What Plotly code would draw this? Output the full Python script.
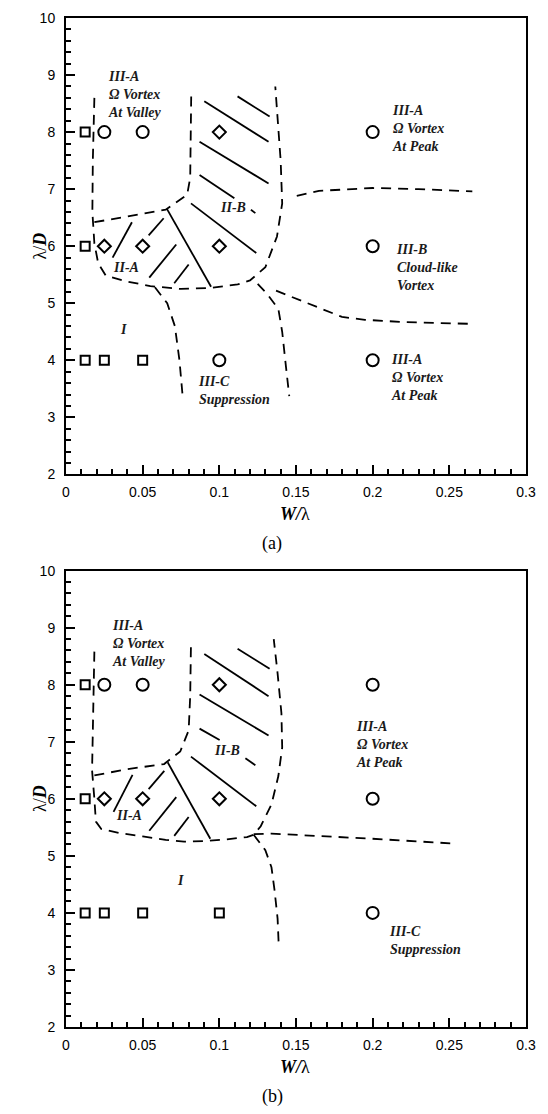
import plotly.graph_objects as go

# ---------------- data ----------------
# panel (a) markers
a_sq_x = [0.0125, 0.0125, 0.0125, 0.025, 0.05]
a_sq_y = [8, 6, 4, 4, 4]
a_ci_x = [0.025, 0.05, 0.1, 0.2, 0.2, 0.2]
a_ci_y = [8, 8, 4, 8, 6, 4]
a_di_x = [0.025, 0.05, 0.1, 0.1]
a_di_y = [6, 6, 8, 6]

# panel (b) markers
b_sq_x = [0.0125, 0.0125, 0.0125, 0.025, 0.05, 0.1]
b_sq_y = [8, 6, 4, 4, 4, 4]
b_ci_x = [0.025, 0.05, 0.2, 0.2, 0.2]
b_ci_y = [8, 8, 8, 6, 4]
b_di_x = [0.025, 0.05, 0.1, 0.1]
b_di_y = [6, 6, 8, 6]

# panel (a) dashed boundaries
a_outer_x = [0.0185, 0.0175, 0.0172, 0.0185, 0.021, 0.026, 0.04, 0.055, 0.075, 0.095, 0.112, 0.12, 0.13, 0.1376, 0.141, 0.140, 0.1365]
a_outer_y = [8.60, 7.50, 6.60, 6.05, 5.70, 5.48, 5.38, 5.30, 5.25, 5.27, 5.33, 5.40, 5.63, 6.17, 6.75, 7.50, 8.80]
a_inner_x = [0.0185, 0.040, 0.065, 0.079, 0.081, 0.0817]
a_inner_y = [6.42, 6.52, 6.64, 6.90, 7.20, 8.72]
a_c_left_x = [0.058, 0.066, 0.071, 0.074, 0.0762]
a_c_left_y = [5.28, 5.00, 4.60, 4.00, 3.33]
a_c_right_x = [0.125, 0.131, 0.1385, 0.141, 0.143, 0.1456]
a_c_right_y = [5.34, 5.17, 4.90, 4.50, 4.00, 3.37]
a_b_low_x = [0.137, 0.152, 0.166, 0.18, 0.195, 0.22, 0.2625]
a_b_low_y = [5.22, 5.06, 4.90, 4.76, 4.71, 4.67, 4.64]
a_b_up_x = [0.1505, 0.165, 0.20, 0.23, 0.265]
a_b_up_y = [6.88, 6.97, 7.02, 7.00, 6.96]

# panel (b) dashed boundaries
b_outer_x = [0.0185, 0.0175, 0.017, 0.0185, 0.0195, 0.023, 0.035, 0.05, 0.065, 0.077, 0.09, 0.105, 0.118, 0.1224, 0.127, 0.134, 0.1385, 0.141, 0.1405, 0.138, 0.1355]
b_outer_y = [8.58, 7.50, 6.50, 6.00, 5.60, 5.47, 5.40, 5.34, 5.28, 5.25, 5.26, 5.29, 5.33, 5.37, 5.52, 5.90, 6.40, 6.90, 7.50, 8.20, 8.80]
b_inner_x = [0.0185, 0.040, 0.064, 0.0745, 0.080, 0.081, 0.0815]
b_inner_y = [6.41, 6.52, 6.61, 6.83, 7.20, 7.80, 8.70]
b_c_x = [0.1224, 0.130, 0.134, 0.136, 0.138, 0.1387]
b_c_y = [5.37, 5.10, 4.80, 4.40, 3.90, 3.46]
b_h_x = [0.1224, 0.134, 0.20, 0.2506]
b_h_y = [5.38, 5.39, 5.30, 5.22]

# hatch segments (None separates segments)
a_hatch_x = [0.1119, 0.1328, None, 0.0902, 0.1321, None, 0.0871, 0.1321, None,
             0.0871, 0.1098, None, 0.1206, 0.1235, None, 0.0815, 0.1241, None,
             0.043, 0.0304, None, 0.0637, 0.0539, None, 0.0719, 0.0543, None,
             0.080, 0.0706, None, 0.0659, 0.0946]
a_hatch_y = [8.626, 8.273, None, 8.54, 7.83, None, 7.83, 7.10, None,
             7.25, 6.84, None, 6.64, 6.58, None, 6.75, 5.88, None,
             6.42, 5.80, None, 6.49, 6.19, None, 6.03, 5.45, None,
             5.68, 5.35, None, 6.65, 5.29]
b_hatch_x = [0.1119, 0.1328, None, 0.0902, 0.1321, None, 0.0871, 0.1321, None,
             0.0871, 0.1002, None, 0.117, 0.1235, None, 0.0815, 0.1241, None,
             0.0434, 0.031, None, 0.0641, 0.0539, None, 0.0719, 0.0543, None,
             0.080, 0.0706, None, 0.0663, 0.0941]
b_hatch_y = [8.63, 8.28, None, 8.54, 7.80, None, 7.83, 7.11, None,
             7.23, 7.03, None, 6.71, 6.59, None, 6.74, 5.87, None,
             6.42, 5.77, None, 6.49, 6.17, None, 6.03, 5.44, None,
             5.68, 5.35, None, 6.64, 5.30]

# text labels: (lines, x, y, anchor)
a_labels = [
    (["III-A", "Ω Vortex", "At Valley"], 0.0263, 8.66, "left"),
    (["III-A", "Ω Vortex", "At Peak"], 0.2115, 8.07, "left"),
    (["III-B", "Cloud-like", "Vortex"], 0.2137, 5.63, "left"),
    (["III-A", "Ω Vortex", "At Peak"], 0.2104, 3.69, "left"),
    (["III-C", "Suppression"], 0.085, 3.475, "left"),
    (["I"], 0.0376, 4.54, "center"),
    (["II-A"], 0.0392, 5.62, "center"),
    (["II-B"], 0.109, 6.67, "center"),
]
b_labels = [
    (["III-A", "Ω Vortex", "At Valley"], 0.0289, 8.73, "left"),
    (["III-A", "Ω Vortex", "At Peak"], 0.1876, 6.96, "left"),
    (["III-C", "Suppression"], 0.2093, 3.52, "left"),
    (["I"], 0.0745, 4.56, "center"),
    (["II-A"], 0.0408, 5.71, "center"),
    (["II-B"], 0.105, 6.84, "center"),
]
captions = ["(a)", "(b)"]
x_title = "<b><i>W/</i></b>λ"
y_title = "λ/<b><i>D</i></b>"

# ---------------- figure ----------------
fig = go.Figure()
DASH = "10px,7px"
SERIF = "Liberation Serif"
SANS = "Liberation Sans"


def add_panel(xa, ya, sqx, sqy, cix, ciy, dix, diy, dashed, hx, hy, labels):
    for lx, ly in dashed:
        fig.add_trace(go.Scatter(x=lx, y=ly, mode="lines", xaxis=xa, yaxis=ya,
                                 line=dict(color="black", width=1.8, dash=DASH),
                                 showlegend=False, hoverinfo="skip"))
    fig.add_trace(go.Scatter(x=hx, y=hy, mode="lines", xaxis=xa, yaxis=ya,
                             line=dict(color="black", width=1.8), showlegend=False,
                             hoverinfo="skip"))
    for mx, my, sym, sz in [(sqx, sqy, "square-open", 9), (cix, ciy, "circle-open", 12),
                            (dix, diy, "diamond-open", 10)]:
        fig.add_trace(go.Scatter(x=mx, y=my, mode="markers", xaxis=xa, yaxis=ya,
                                 marker=dict(symbol=sym, size=sz, color="black",
                                             line=dict(width=2, color="black")),
                                 showlegend=False))
    for lines, tx, ty, anc in labels:
        txt = "<br>".join("<b><i>%s</i></b>" % s for s in lines)
        fig.add_annotation(x=tx, y=ty, xref=xa, yref=ya, text=txt, align="left",
                           showarrow=False, xanchor=anc, yanchor="middle",
                           font=dict(family=SERIF, size=14, color="#1a1a1a"))


add_panel("x", "y", a_sq_x, a_sq_y, a_ci_x, a_ci_y, a_di_x, a_di_y,
          [(a_outer_x, a_outer_y), (a_inner_x, a_inner_y), (a_c_left_x, a_c_left_y),
           (a_c_right_x, a_c_right_y), (a_b_low_x, a_b_low_y), (a_b_up_x, a_b_up_y)],
          a_hatch_x, a_hatch_y, a_labels)
add_panel("x2", "y2", b_sq_x, b_sq_y, b_ci_x, b_ci_y, b_di_x, b_di_y,
          [(b_outer_x, b_outer_y), (b_inner_x, b_inner_y), (b_c_x, b_c_y), (b_h_x, b_h_y)],
          b_hatch_x, b_hatch_y, b_labels)

for xa, ya, cap in [("x", "y", captions[0]), ("x2", "y2", captions[1])]:
    fig.add_annotation(x=0.498, y=-0.087, xref=xa + " domain", yref=ya + " domain",
                       text=x_title, showarrow=False, yanchor="middle",
                       font=dict(family=SERIF, size=18, color="black"))
    fig.add_annotation(x=0.448, y=-0.152, xref=xa + " domain", yref=ya + " domain",
                       text=cap, showarrow=False, yanchor="middle",
                       font=dict(family=SERIF, size=18, color="black"))
    fig.add_annotation(x=-0.082, y=0.5, xref=xa + " domain", yref=ya + " domain",
                       text=y_title, showarrow=False, textangle=-90,
                       font=dict(family=SERIF, size=18, color="black"))

xcommon = dict(range=[0, 0.30001], tickmode="linear", tick0=0, dtick=0.05,
               ticks="inside", ticklen=9, tickwidth=2, tickcolor="black",
               minor=dict(dtick=0.01, tick0=0, ticks="inside", ticklen=5, tickwidth=1.5,
                          tickcolor="black"),
               showline=True, linewidth=2, linecolor="black", mirror=True,
               showgrid=False, zeroline=False, ticklabelstandoff=4,
               tickfont=dict(family=SANS, size=14, color="black"))
ycommon = dict(range=[2, 10], tickmode="linear", tick0=2, dtick=1,
               ticks="inside", ticklen=9, tickwidth=2, tickcolor="black",
               minor=dict(dtick=0.2, tick0=2, ticks="inside", ticklen=5, tickwidth=1.5,
                          tickcolor="black"),
               showline=True, linewidth=2, linecolor="black", mirror=True,
               showgrid=False, zeroline=False, ticklabelstandoff=6,
               tickfont=dict(family=SANS, size=14, color="black"))

fig.update_layout(
    width=548, height=1114,
    margin=dict(l=66, r=22, t=10, b=87),
    paper_bgcolor="white", plot_bgcolor="white",
    xaxis=dict(domain=[0, 1], anchor="y", **xcommon),
    yaxis=dict(domain=[0.5477, 1], anchor="x", **ycommon),
    xaxis2=dict(domain=[0, 1], anchor="y2", **xcommon),
    yaxis2=dict(domain=[0, 0.4523], anchor="x2", **ycommon),
    showlegend=False,
)

fig.write_html("out.html")
